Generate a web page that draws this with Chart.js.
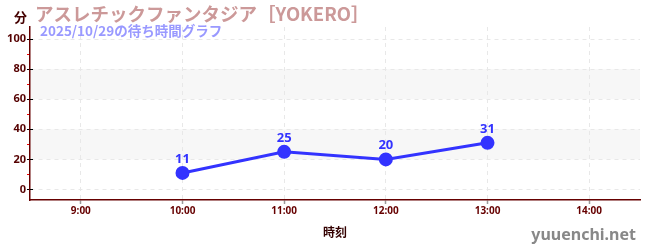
<!DOCTYPE html>
<html>
<head>
<meta charset="utf-8">
<script src="https://cdn.jsdelivr.net/npm/chart.js@4"></script>
<style>
  html, body { margin: 0; padding: 0; background: #fff; }
  #wrap { position: relative; width: 650px; height: 250px; }
</style>
</head>
<body>
<div id="wrap"><canvas id="waitChart" width="650" height="250"></canvas></div>
<script>
const hours = ["9:00", "10:00", "11:00", "12:00", "13:00", "14:00"];
const waitMinutes = [null, 11, 25, 20, 31, null];
const bands = [[20, 40], [60, 80]];

const titleText = "アスレチックファンタジア［YOKERO］";
const subTitleText = "2025/10/29の待ち時間グラフ";

// shaded bands + extra text
const decorPlugin = {
  id: "decor",
  beforeDraw(chart) {
    const { ctx, chartArea, scales } = chart;
    ctx.save();
    ctx.fillStyle = "#f7f7f7";
    bands.forEach(b => {
      const y1 = scales.y.getPixelForValue(b[1]);
      const y0 = scales.y.getPixelForValue(b[0]);
      ctx.fillRect(chartArea.left, y1, chartArea.right - chartArea.left, y0 - y1);
    });
    ctx.restore();
  },
  afterDraw(chart) {
    const { ctx, scales } = chart;
    ctx.save();
    // major ticks crossing into the plot
    ctx.strokeStyle = "#000";
    ctx.lineWidth = 1;
    for (let v = 0; v <= 100; v += 20) {
      const y = Math.round(scales.y.getPixelForValue(v)) + 0.5;
      ctx.beginPath();
      ctx.moveTo(scales.y.right, y);
      ctx.lineTo(scales.y.right + 3, y);
      ctx.stroke();
    }
    ctx.textBaseline = "middle";
    ctx.textAlign = "left";
    ctx.fillStyle = "#c99";
    ctx.font = "bold 18.5px 'Noto Sans CJK JP'";
    ctx.fillText(titleText, 35, 14);
    ctx.fillStyle = "#99f";
    ctx.font = "bold 13.5px 'Noto Sans CJK JP'";
    ctx.fillText(subTitleText, 40, 31);
    ctx.fillStyle = "#400";
    ctx.font = "bold 13px 'Noto Sans CJK JP'";
    ctx.fillText("分", 14, 17);
    ctx.textAlign = "right";
    ctx.fillStyle = "#888";
    ctx.font = "bold 16px 'Noto Sans'";
    ctx.fillText("yuuenchi.net", 636, 235);
    // value labels
    const meta = chart.getDatasetMeta(0);
    ctx.textAlign = "center";
    ctx.fillStyle = "#33f";
    ctx.font = "bold 13px 'Noto Sans'";
    meta.data.forEach((pt, i) => {
      if (waitMinutes[i] == null) return;
      ctx.fillText(String(waitMinutes[i]), pt.x, pt.y - 14);
    });
    ctx.restore();
  }
};

new Chart(document.getElementById("waitChart").getContext("2d"), {
  type: "line",
  data: {
    labels: hours,
    datasets: [{
      label: "待ち時間",
      data: waitMinutes,
      borderColor: "#33f",
      backgroundColor: "#33f",
      borderWidth: 3,
      pointRadius: 5.5,
      pointHoverRadius: 5.5,
      tension: 0,
      spanGaps: false
    }]
  },
  options: {
    responsive: false,
    animation: false,
    layout: { padding: { top: 27, right: 10, left: 0, bottom: 0 } },
    plugins: {
      legend: { display: false },
      tooltip: { enabled: false }
    },
    scales: {
      x: {
        offset: true,
        afterFit(scale) { scale.height = 50; },
        border: { color: "#600", width: 1.5, dash: [4, 4] },
        grid: {
          offset: false,
          color: "#e8e8e8",
          tickColor: "#999",
          tickLength: 4,
          tickWidth: 1.5
        },
        ticks: {
          color: "#600",
          padding: 1,
          font: { family: "Noto Sans", size: 10, weight: "bold" }
        },
        title: {
          display: true,
          text: "時刻",
          color: "#300",
          padding: { top: 0, bottom: 10 },
          font: { family: "Noto Sans CJK JP", size: 12, weight: "bold" }
        }
      },
      y: {
        min: -7,
        max: 108,
        afterFit(scale) { scale.width = 30; },
        border: { color: "#600", width: 1.5, dash: [4, 4] },
        grid: {
          color: ctx => (ctx.tick && ctx.tick.value % 20 === 0) ? "#e8e8e8" : "transparent",
          tickColor: ctx => (ctx.tick && ctx.tick.value % 20 === 0) ? "#000" : "#e00",
          tickLength: 3
        },
        ticks: {
          stepSize: 10,
          includeBounds: false,
          autoSkip: false,
          padding: 1,
          color: "#500",
          font: { family: "Noto Sans", size: 11, weight: "bold" },
          callback: v => (v % 20 === 0 ? v : "")
        }
      }
    }
  },
  plugins: [decorPlugin]
});
</script>
</body>
</html>
